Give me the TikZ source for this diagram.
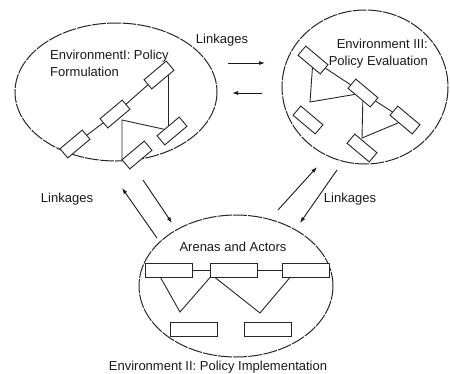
\documentclass[tikz,border=0pt]{standalone}
\usepackage{fontspec}
\setmainfont{Liberation Sans}
\usetikzlibrary{arrows.meta,backgrounds}
\tikzset{
	actor/.style={draw=black!85, fill=white, minimum width=29pt, minimum height=12pt, inner sep=0pt, line width=0.9pt},
	wideactor/.style={actor, minimum width=47pt, minimum height=14pt},
	arena/.style={draw=black!85, line width=1pt, dash pattern=on 14pt off 1.2pt},
	link/.style={draw=black!90, -{Latex[length=6pt,width=4pt]}, line width=0.9pt},
	tie/.style={draw=black!85, line width=0.9pt},
	caption/.style={text=black!90, font=\fontsize{13}{17}\selectfont, inner sep=0pt}
}
\begin{document}
\begin{tikzpicture}[x=1pt,y=-1pt]
		\useasboundingbox (0,0) rectangle (450,373);
		\draw[arena] (116,92) ellipse [x radius=101, y radius=69];
		\draw[arena] (365,87) ellipse [x radius=83, y radius=77];
		\draw[arena] (236,286) ellipse [x radius=97, y radius=71];
		\node[caption, anchor=west, align=left] (envI) at (50,63.5) {EnvironmentI: Policy\\Formulation};
		\node[caption, anchor=east, align=right] (envIII) at (428,53.5) {Environment III:\\Policy Evaluation};
		\node[caption] (envII) at (218,367) {Environment II: Policy Implementation};
		\node[caption] (arenas) at (233,247) {Arenas and Actors};
		\node[caption] (linktop) at (222,40) {Linkages};
		\node[caption] (linkleft) at (67,199) {Linkages};
		\node[caption] (linkright) at (350,199) {Linkages};
		\node[actor, rotate=40] (l1) at (75,144) {};
		\node[actor, rotate=40] (l2) at (115,114) {};
		\node[actor, rotate=40] (l3) at (159,75) {};
		\node[actor, rotate=40] (l4) at (172,131) {};
		\node[actor, rotate=40] (l5) at (137,155) {};
		\node[actor, rotate=-40] (rA) at (313,60) {};
		\node[actor, rotate=-40] (rB) at (363,93) {};
		\node[actor, rotate=-40] (rC) at (405,120) {};
		\node[actor, rotate=-40] (rD) at (308,120) {};
		\node[actor, rotate=-40] (rE) at (362,148) {};
		\node[wideactor] (m1) at (168.5,270) {};
		\node[wideactor] (m2) at (234,270) {};
		\node[wideactor] (m3) at (306,270) {};
		\node[wideactor] (n1) at (194,329.5) {};
		\node[wideactor] (n2) at (267.5,329.5) {};
		\coordinate (la) at (168,75);
		\coordinate (lt) at (122,120);
		\coordinate (lb) at (122,160);
		\coordinate (ra) at (310,102);
		\coordinate (rb) at (362,138);
		\coordinate (v1) at (180,312);
		\coordinate (v2) at (260,313);
		\begin{scope}[on background layer]
			\draw[tie] (l1) -- (l2) -- (l3);
			\draw[tie] (la) -- (la |- l4);
			\draw[tie] (l4) -- (lt) -- (lb);
			\draw[tie] (rA) -- (rB) -- (rC);
			\draw[tie] (rA) -- (ra) -- (rB);
			\draw[tie] (rB) -- (rb) -- (rC);
			\draw[tie] (m1) -- (m2) -- (m3);
			\draw[tie] ([xshift=-8pt]m1.south) -- (v1) -- (m2.south west);
			\draw[tie] ([xshift=-19pt]m2.south) -- (v2) -- ([xshift=-16pt]m3.south);
		\end{scope}
		\coordinate (e1) at (228,63);
		\coordinate (e2) at (265,63);
		\coordinate (e3) at (262,93);
		\coordinate (e4) at (232,93);
		\coordinate (e5) at (157,238);
		\coordinate (e6) at (122,188);
		\coordinate (e7) at (143,180);
		\coordinate (e8) at (172,223);
		\coordinate (e9) at (278,210);
		\coordinate (e10) at (317,167);
		\coordinate (e11) at (337,170);
		\coordinate (e12) at (300,223);
		\draw[link] (e1) -- (e2);
		\draw[link] (e3) -- (e4);
		\draw[link] (e5) -- (e6);
		\draw[link] (e7) -- (e8);
		\draw[link] (e9) -- (e10);
		\draw[link] (e11) -- (e12);
\end{tikzpicture}
\end{document}
